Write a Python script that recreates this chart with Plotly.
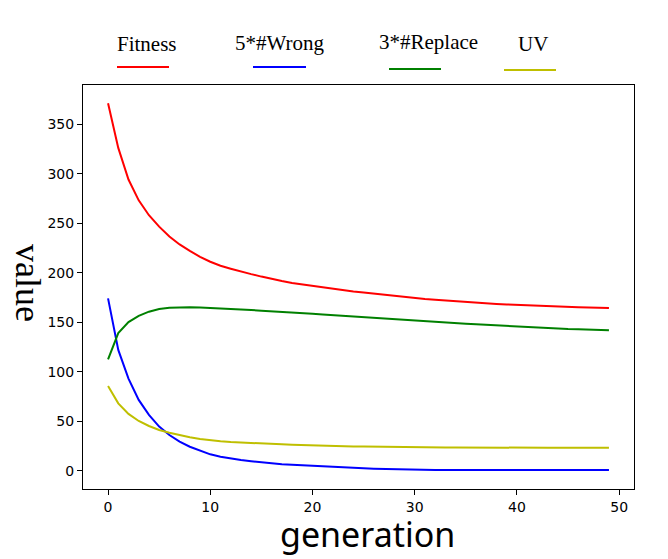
import plotly.graph_objects as go

generation = list(range(50))

fitness = [371, 326, 294, 273, 258, 246.5, 236.5, 228.5, 222, 216,
           211, 207, 204, 201, 198.5, 196, 193.5, 191.5, 189.5, 188,
           186.5, 185, 183.5, 182, 181, 180, 178.8, 177.7, 176.6, 175.3,
           174.2, 173.4, 172.6, 171.8, 171, 170.2, 169.6, 169, 168.4, 167.9,
           167.4, 167, 166.6, 166.2, 165.8, 165.4, 165.1, 164.8, 164.5, 164.3]

wrong5 = [174, 122, 93, 71.5, 56.3, 44.5, 36, 29.3, 24.2, 20,
          16.5, 14.1, 12.1, 10.7, 9.5, 8.4, 7.4, 6.6, 6, 5.4,
          5, 4.4, 3.9, 3.3, 2.8, 2.4, 2, 1.7, 1.4, 1.2,
          1, 0.9, 0.8, 0.8, 0.7, 0.7, 0.7, 0.6, 0.6, 0.6,
          0.6, 0.6, 0.6, 0.6, 0.6, 0.6, 0.6, 0.6, 0.6, 0.6]

replace3 = [112.5, 139, 150, 156.3, 160.6, 163.3, 164.6, 165, 165, 164.8,
            164.4, 163.9, 163.3, 162.7, 162.2, 161.6, 161.1, 160.5, 160, 159.2,
            158.4, 157.7, 157, 156.3, 155.6, 154.8, 154.2, 153.5, 152.9, 152.2,
            151.5, 150.9, 150.3, 149.7, 149.1, 148.5, 147.9, 147.3, 146.7, 146.1,
            145.5, 145, 144.5, 144, 143.6, 143.1, 142.8, 142.4, 142.1, 141.8]

uv = [85.5, 68, 57.3, 50.2, 45.1, 41.1, 38.4, 35.7, 33.7, 32,
      30.7, 29.8, 29, 28.4, 27.8, 27.3, 26.9, 26.6, 26.3, 25.9,
      25.6, 25.3, 25, 24.8, 24.5, 24.3, 24.1, 23.9, 23.8, 23.7,
      23.6, 23.5, 23.5, 23.4, 23.4, 23.3, 23.3, 23.3, 23.2, 23.2,
      23.2, 23.2, 23.2, 23.2, 23.2, 23.2, 23.2, 23.2, 23.2, 23.2]

series_names = ["Fitness", "5*#Wrong", "3*#Replace", "UV"]
series_values = [fitness, wrong5, replace3, uv]
series_colors = ["#ff0000", "#0000ff", "#008000", "#bfbf00"]

# page is drawn with an 8px body margin; compensate
OFF = 8
PAGE_W, PAGE_H = 668, 559
W, H = PAGE_W - OFF, PAGE_H - OFF
PL, PR, PT, PB = 83, 634, 85, 489          # plot area in page pixels
L, T = PL - OFF, PT - OFF
R, B = PAGE_W - PR, PAGE_H - PB
pw, ph = PR - PL, PB - PT

def px_x(p):
    return (p - PL) / pw

def px_y(p):
    return (PB - p) / ph

fig = go.Figure()
for name, vals, col in zip(series_names, series_values, series_colors):
    fig.add_trace(go.Scatter(x=generation, y=vals, mode="lines", name=name,
                             line=dict(color=col, width=2), showlegend=False))

# custom legend: text above, short line below
legend_text_x = [146.7, 279.7, 428.7, 532.5]
legend_text_y = [44, 43, 42, 44]
legend_line_x = [(117, 169), (253, 306), (389, 441), (504, 556)]
legend_line_y = [67, 67, 69, 70]
for name, col, tx, ty, (lx0, lx1), ly in zip(series_names, series_colors, legend_text_x,
                                            legend_text_y, legend_line_x, legend_line_y):
    fig.add_annotation(text=name, xref="paper", yref="paper", x=px_x(tx), y=px_y(ty),
                       xanchor="center", yanchor="middle", showarrow=False,
                       font=dict(family="Liberation Serif", size=21, color="black"))
    fig.add_shape(type="line", xref="paper", yref="paper",
                  x0=px_x(lx0), x1=px_x(lx1), y0=px_y(ly), y1=px_y(ly),
                  line=dict(color=col, width=2))

# y-axis title reading top-to-bottom
fig.add_annotation(text="value", xref="paper", yref="paper", x=px_x(28), y=px_y(283),
                   xanchor="center", yanchor="middle", showarrow=False, textangle=90,
                   font=dict(family="Liberation Serif", size=36, color="black"))

# x-axis title
fig.add_annotation(text="generation", xref="paper", yref="paper", x=px_x(367.5), y=px_y(534),
                   xanchor="center", yanchor="middle", showarrow=False,
                   font=dict(family="Noto Sans", size=34, color="black"))

axis_common = dict(showline=True, linecolor="black", linewidth=1, mirror=True,
                   ticks="outside", ticklen=5, tickwidth=1, tickcolor="black",
                   showgrid=False, zeroline=False,
                   tickfont=dict(family="DejaVu Sans", size=14, color="black"))

fig.update_layout(
    width=W, height=H,
    margin=dict(l=L, r=R, t=T, b=B, pad=0),
    paper_bgcolor="white", plot_bgcolor="white",
    xaxis=dict(range=[-2.45, 51.45], tickvals=[0, 10, 20, 30, 40, 50], **axis_common),
    yaxis=dict(range=[-18.5, 389.5], tickvals=[0, 50, 100, 150, 200, 250, 300, 350],
               **axis_common),
)

fig.write_html("out.html")
